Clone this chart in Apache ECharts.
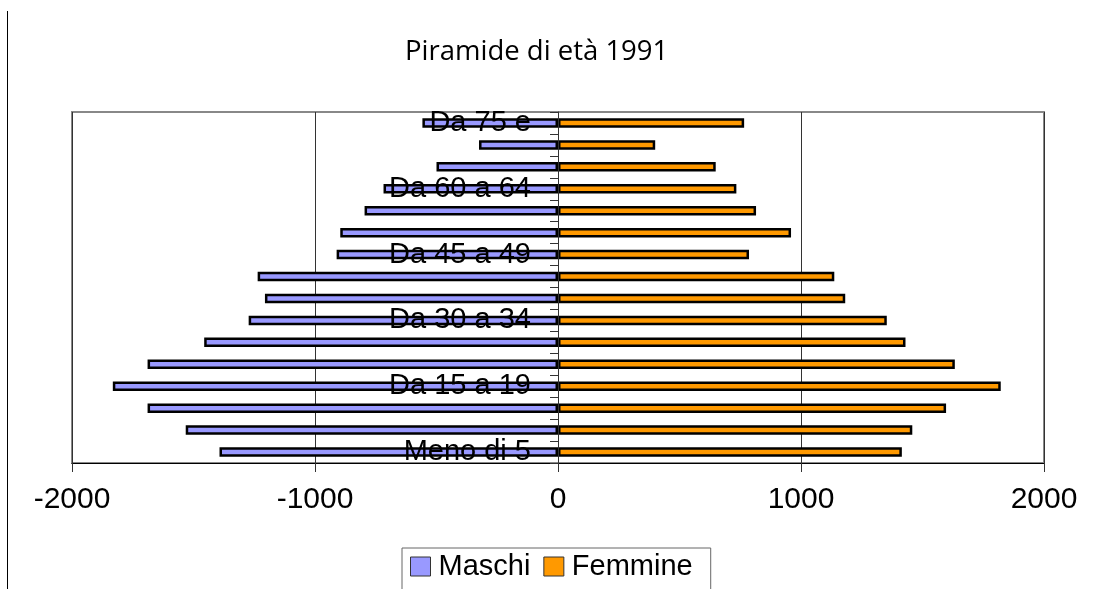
<!DOCTYPE html>
<html>
<head>
<meta charset="utf-8">
<script src="https://cdn.jsdelivr.net/npm/echarts@6/dist/echarts.min.js"></script>
<style>html,body{margin:0;padding:0;background:#fff;}#c{width:1094px;height:589px;}</style>
</head>
<body>
<div id="c"></div>
<script>
const categories = ['Meno di 5','Da 5 a 9','Da 10 a 14','Da 15 a 19','Da 20 a 24','Da 25 a 29','Da 30 a 34','Da 35 a 39','Da 40 a 44','Da 45 a 49','Da 50 a 54','Da 55 a 59','Da 60 a 64','Da 65 a 69','Da 70 a 74','Da 75 e'];
const maschi = [-1393,-1532,-1689,-1832,-1689,-1456,-1273,-1206,-1236,-911,-896,-796,-718,-500,-325,-558];
const femmine = [1415,1458,1597,1822,1633,1430,1353,1182,1137,786,959,815,734,649,400,766];
const xTicks = {min: -2000, max: 2000, interval: 1000};
const titleText = 'Piramide di età 1991';

const chart = echarts.init(document.getElementById('c'), null, {renderer: 'canvas'});
const barStyle = (color) => ({color: color, borderColor: '#000', borderWidth: 2.5});
chart.setOption({
  animation: false,
  backgroundColor: '#fff',
  title: {
    text: titleText,
    left: 400, top: 33,
    textStyle: {fontFamily: 'Open Sans', fontSize: 27.5, fontWeight: 'normal', color: '#000'}
  },
  legend: {
    data: ['Maschi', 'Femmine'],
    left: 402, top: 548,
    padding: [4, 18, 30, 8],
    itemGap: 13,
    itemWidth: 20, itemHeight: 19,
    borderColor: '#666', borderWidth: 1,
    icon: 'rect',
    itemStyle: {borderColor: '#333', borderWidth: 1},
    textStyle: {fontFamily: 'Liberation Sans', fontSize: 29, color: '#000', padding: [0, 0, 0, 3]}
  },
  graphic: [{
    type: 'line', shape: {x1: 7.5, y1: 11, x2: 7.5, y2: 589},
    style: {stroke: '#000', lineWidth: 1}
  }],
  grid: {
    left: 72, right: 50, top: 112, bottom: 126,
    show: true, borderColor: '#888', borderWidth: 2,
    outerBoundsMode: 'none', containLabel: false
  },
  xAxis: {
    type: 'value',
    min: xTicks.min, max: xTicks.max, interval: xTicks.interval,
    axisLine: {show: true, onZero: false, lineStyle: {color: '#000', width: 1}},
    axisTick: {show: true, length: 9, lineStyle: {color: '#333'}},
    axisLabel: {fontFamily: 'Liberation Sans', fontSize: 30, color: '#000', margin: 22, formatter: (v) => String(v)},
    splitLine: {show: true, lineStyle: {color: '#333', width: 1}}
  },
  yAxis: {
    type: 'category',
    data: categories,
    z: 5,
    axisLine: {show: true, onZero: true, lineStyle: {color: '#333', width: 1}},
    axisTick: {show: true, interval: 0, length: 8, lineStyle: {color: '#333'}},
    axisLabel: {interval: 2, fontFamily: 'Liberation Sans', fontSize: 29, color: '#000', margin: -459},
    splitLine: {show: false}
  },
  series: [
    {name: 'Maschi', type: 'bar', data: maschi, barWidth: 9.5, barGap: '-100%', itemStyle: barStyle('#9999FF')},
    {name: 'Femmine', type: 'bar', data: femmine, barWidth: 9.5, barGap: '-100%', itemStyle: barStyle('#FF9900')}
  ]
});
</script>
</body>
</html>
